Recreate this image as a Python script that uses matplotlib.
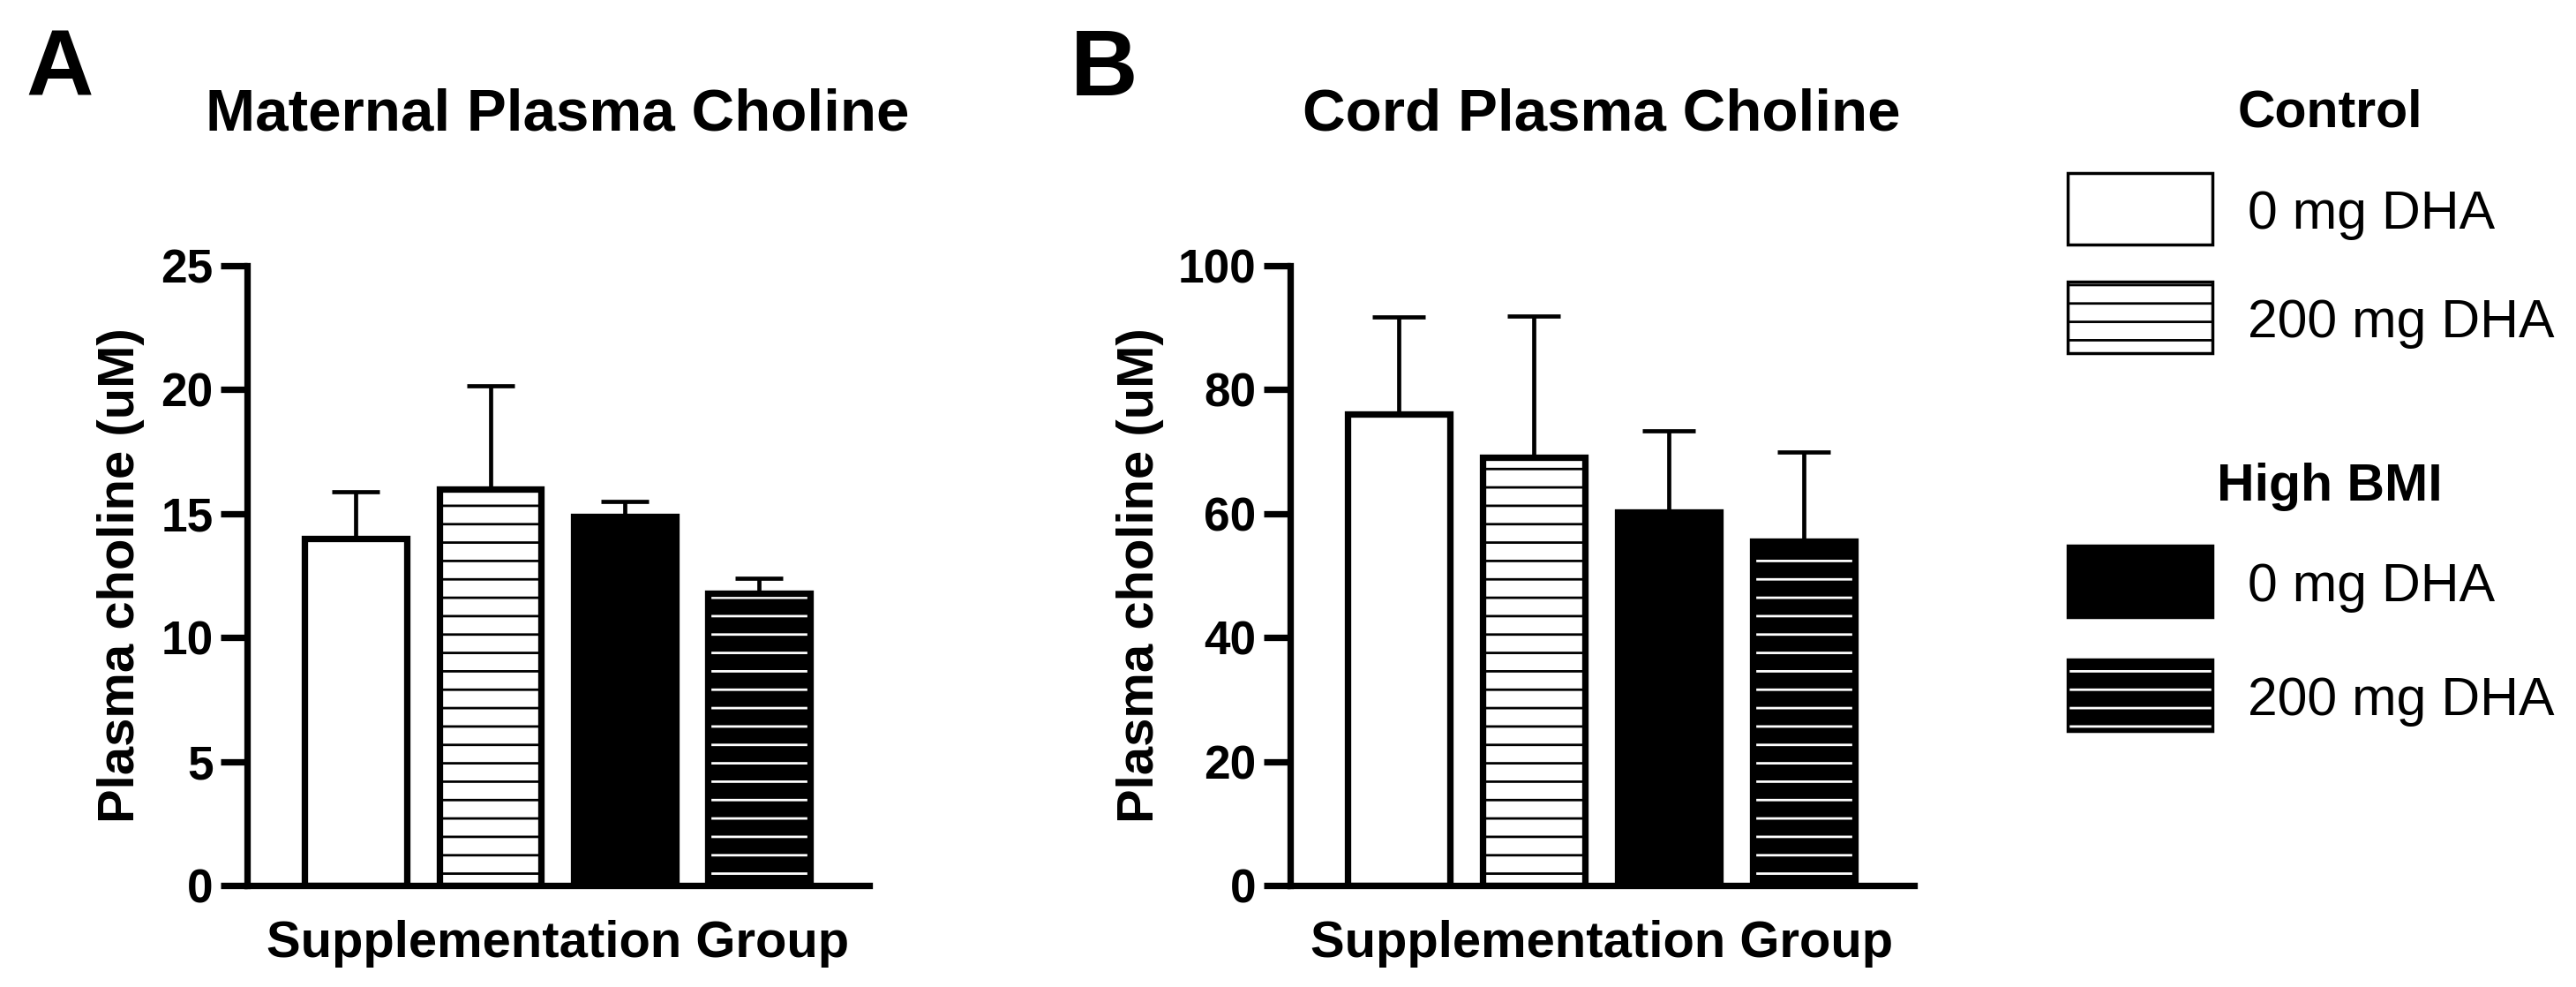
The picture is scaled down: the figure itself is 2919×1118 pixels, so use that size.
import matplotlib
matplotlib.use("Agg")
import matplotlib.pyplot as plt
from matplotlib.patches import Rectangle

plt.rcParams["font.family"] = ["Liberation Sans", "DejaVu Sans"]
plt.rcParams["font.weight"] = "bold"
plt.rcParams["hatch.linewidth"] = 0.8

W, H, DPI = 2919, 1118, 250

# data (mean + upper error)
groups = ["Control 0 mg", "Control 200 mg", "High BMI 0 mg", "High BMI 200 mg"]
maternal_mean = [14.0, 16.0, 14.9, 11.8]
maternal_err = [1.9, 4.15, 0.6, 0.6]
cord_mean = [76.0, 69.1, 60.3, 55.6]
cord_err = [15.7, 22.8, 13.1, 14.3]

legend_titles = ["Control", "High BMI"]
legend_labels = ["0 mg DHA", "200 mg DHA", "0 mg DHA", "200 mg DHA"]

# bar styles
face = ["white", "white", "black", "black"]
hatch_col = ["black", "black", "black", "white"]
hatches = [None, "--", None, "--"]

LW = 2.1


def fx(px):
    return px / W


def fy(py):
    return 1 - py / H


fig = plt.figure(figsize=(W / DPI, H / DPI), dpi=DPI)

# overlay in pixel coords for letters, titles, labels and legend
ov = fig.add_axes([0, 0, 1, 1])
ov.set_xlim(0, W)
ov.set_ylim(H, 0)
ov.axis("off")


def panel(x0, x1, means, errs, ymax, step, capsize):
    ax = fig.add_axes([fx(x0), fy(1003), fx(x1) - fx(x0), fy(301) - fy(1003)])
    x = list(range(len(means)))
    ax.errorbar(x, means, yerr=[[0] * len(means), errs], fmt="none",
                ecolor="black", elinewidth=1.35, capsize=capsize,
                capthick=1.35, zorder=1)
    for xi, m, fc, hc, h in zip(x, means, face, hatch_col, hatches):
        ax.bar(xi, m, width=0.76, color=fc, edgecolor=hc, hatch=h,
               linewidth=0, zorder=2)
        ax.bar(xi, m, width=0.76, facecolor="none", edgecolor="black",
               linewidth=LW, zorder=3)
    ax.set_xlim(-0.81, 3.82)
    ax.set_ylim(0, ymax)
    ax.set_yticks(range(0, ymax + 1, step))
    ax.set_xticks([])
    for s in ["top", "right"]:
        ax.spines[s].set_visible(False)
    for s in ["left", "bottom"]:
        ax.spines[s].set_linewidth(LW)
        ax.spines[s].set_zorder(4)
    ax.tick_params(axis="y", direction="out", length=8.6, width=LW,
                   pad=2.5, labelsize=15.3)
    return ax


axA = panel(280, 985, maternal_mean, maternal_err, 25, 5, 7.8)
axB = panel(1461.5, 2169, cord_mean, cord_err, 100, 20, 8.7)

# panel letters
ov.text(29, 108, "A", fontsize=30.5, ha="left", va="baseline")
ov.text(1213, 108, "B", fontsize=30.5, ha="left", va="baseline")

# titles
ov.text(632, 147, "Maternal Plasma Choline", fontsize=19.4, ha="center", va="baseline")
ov.text(1815, 147, "Cord Plasma Choline", fontsize=19.4, ha="center", va="baseline")

# axis labels
for cx, ylx in [(632, 137), (1815, 1292)]:
    ov.text(cx, 1084, "Supplementation Group", fontsize=16.7, ha="center", va="baseline")
    ov.text(ylx, 652, "Plasma choline (uM)", fontsize=16.7, rotation=90,
            ha="center", va="center")

# legend
for title, ty in zip(legend_titles, [143, 567]):
    ov.text(2640, ty, title, fontsize=17, ha="center", va="baseline")

box_tops = [196, 319, 618, 747]
for i, (lab, top) in enumerate(zip(legend_labels, box_tops)):
    ov.add_patch(Rectangle((2343, top), 164, 81, facecolor=face[i],
                           edgecolor=hatch_col[i], hatch=hatches[i], linewidth=0))
    ov.add_patch(Rectangle((2343, top), 164, 81, facecolor="none",
                           edgecolor="black", linewidth=1.0))
    ov.text(2547, top + 63, lab, fontsize=17.5, fontweight="normal",
            ha="left", va="baseline")

fig.savefig("out.png", dpi=DPI)
